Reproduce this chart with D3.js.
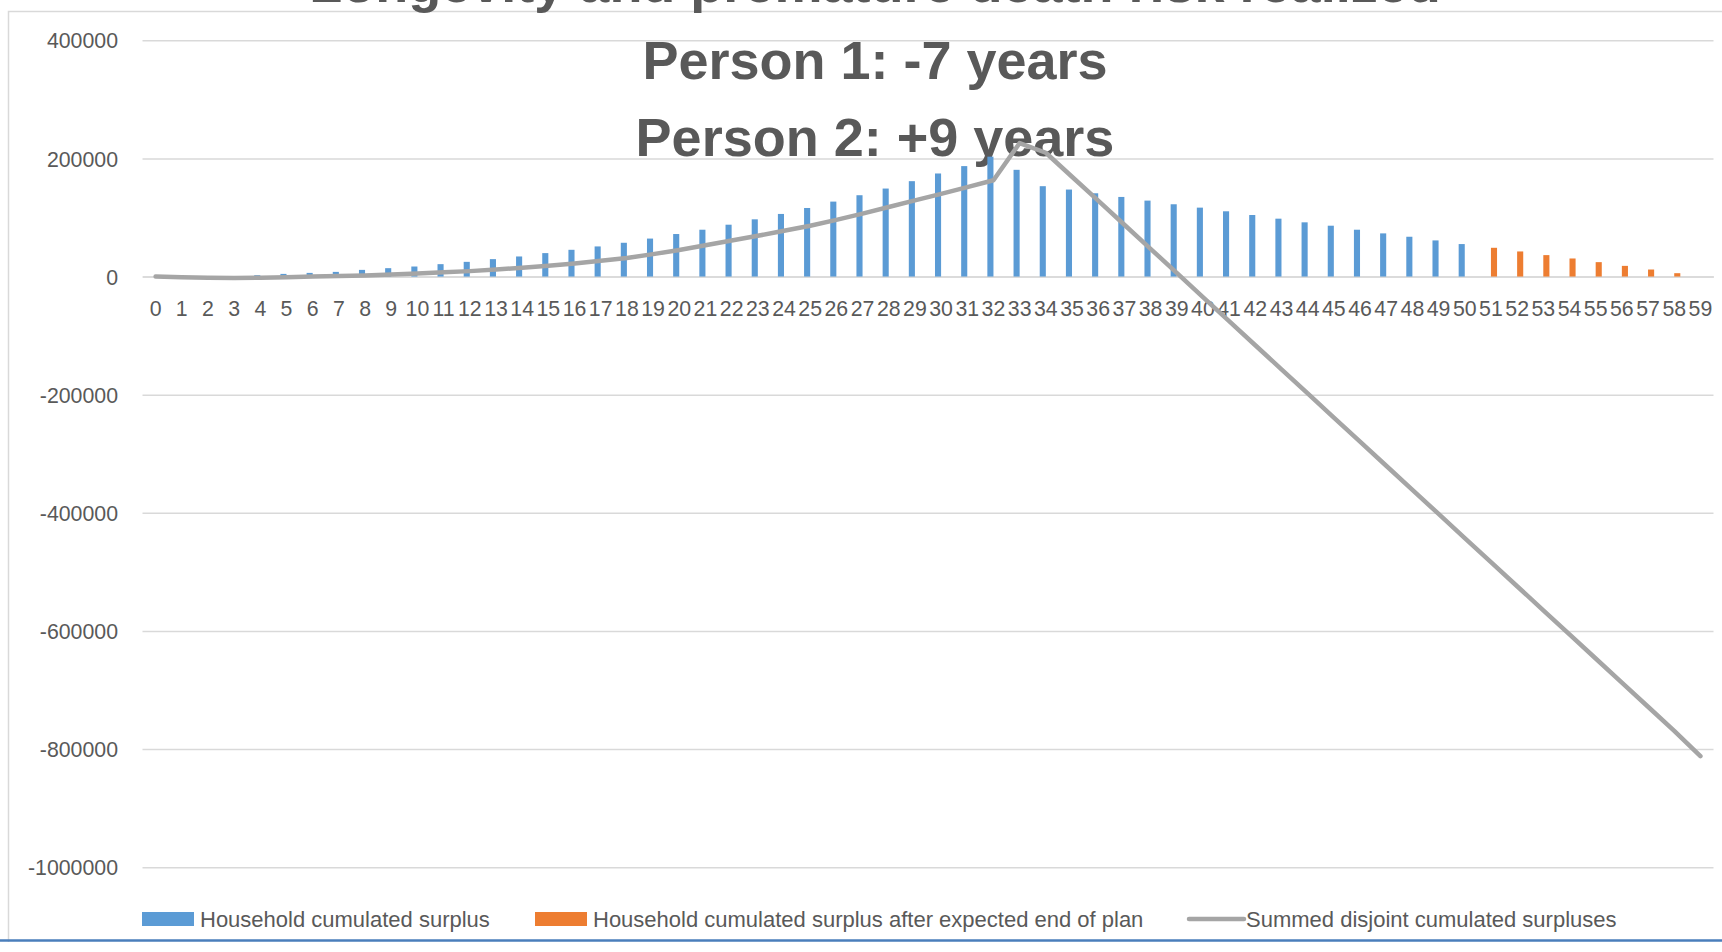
<!DOCTYPE html>
<html>
<head>
<meta charset="utf-8">
<script src="https://cdn.jsdelivr.net/npm/d3@7"></script>
<style>
  html, body { margin: 0; padding: 0; background: #fff; }
  svg { display: block; font-family: "Liberation Sans", Arial, sans-serif; }
</style>
</head>
<body>
<div id="chart"></div>
<script>
// categories (years into plan)
const years = [0,1,2,3,4,5,6,7,8,9,10,11,12,13,14,15,16,17,18,19,20,21,22,23,24,25,26,27,28,29,
               30,31,32,33,34,35,36,37,38,39,40,41,42,43,44,45,46,47,48,49,50,51,52,53,54,55,56,57,58,59];

// blue bars: household cumulated surplus (null after end of plan)
const householdSurplus = [0,0,0,0,2300,4500,6200,7900,11300,14200,
  17000,21000,24900,29500,34000,39700,45300,51000,57200,64300,
  72000,79300,87800,96900,106000,116100,126900,137700,149000,161500,
  174500,187000,203000,180700,153000,147300,141000,134800,128600,122400,
  116700,110500,104200,98000,91800,86100,79300,73100,67400,61200,
  55000,null,null,null,null,null,null,null,null,null];

// orange bars: surplus after expected end of plan
const afterPlanSurplus = [null,null,null,null,null,null,null,null,null,null,
  null,null,null,null,null,null,null,null,null,null,
  null,null,null,null,null,null,null,null,null,null,
  null,null,null,null,null,null,null,null,null,null,
  null,null,null,null,null,null,null,null,null,null,
  null,48700,42500,36300,30600,24400,18100,11900,5700,null];

// grey line: summed disjoint cumulated surpluses
const summedDisjoint = [0,-1000,-2000,-2500,-2000,-1000,0,1000,2000,3400,
  5100,7200,9200,11900,14800,18100,22300,26700,31500,38000,
  45000,53000,61000,69000,77600,86100,96000,106500,117800,129000,
  140000,151300,163000,226000,209600,169000,128500,87700,47000,6100,
  -34700,-75500,-116300,-157100,-197900,-238700,-279500,-320300,-361100,-401900,
  -442700,-483500,-524300,-565100,-605900,-646700,-687500,-728300,-769100,-812000];

const yTicks = [400000,200000,0,-200000,-400000,-600000,-800000,-1000000];

const titleLines = ["Longevity and premature death risk realized",
                    "Person 1: -7 years",
                    "Person 2: +9 years"];

const legendItems = [
  {label: "Household cumulated surplus", type: "rect", color: "#5b9bd5"},
  {label: "Household cumulated surplus after expected end of plan", type: "rect", color: "#ed7d31"},
  {label: "Summed disjoint cumulated surpluses", type: "line", color: "#a5a5a5"}
];

const W = 1722, H = 952;
const plot = {left: 142.5, right: 1713.5, top: 40.3, bottom: 867.2};
const textColor = "#595959";

const svg = d3.select("#chart").append("svg")
  .attr("width", W)
  .attr("height", H);

svg.append("rect").attr("width", W).attr("height", H).attr("fill", "#fff");

// chart area border (runs off the right edge)
svg.append("rect")
  .attr("x", 8.5).attr("y", 11.5)
  .attr("width", W).attr("height", 940)
  .attr("fill", "none")
  .attr("stroke", "#d9d9d9")
  .attr("stroke-width", 1.5);

const x = d3.scaleBand()
  .domain(years)
  .range([plot.left, plot.right])
  .padding(0);

const y = d3.scaleLinear()
  .domain([-1000000, 400000])
  .range([plot.bottom, plot.top]);

// y axis + gridlines (plain hyphen for negatives, like Excel)
const yAxis = svg.append("g")
  .attr("transform", `translate(${plot.left},0)`)
  .call(d3.axisLeft(y)
    .tickValues(yTicks)
    .tickSize(-(plot.right - plot.left))
    .tickPadding(24.5)
    .tickFormat(d => String(d)));
yAxis.select(".domain").remove();
yAxis.selectAll(".tick line").attr("stroke", "#d9d9d9").attr("stroke-width", 1.5);
yAxis.selectAll(".tick text")
  .attr("fill", textColor)
  .attr("font-size", "21.3px")
  .attr("font-family", "Liberation Sans, Arial, sans-serif")
  .attr("dy", "0.36em");

// category labels (axis crosses at 0)
const xAxis = svg.append("g")
  .attr("transform", `translate(0,${y(0)})`)
  .call(d3.axisBottom(x).tickSize(0).tickPadding(24));
xAxis.select(".domain").attr("stroke", "#d9d9d9").attr("stroke-width", 1.5);
xAxis.selectAll(".tick text")
  .attr("fill", textColor)
  .attr("font-size", "21.3px")
  .attr("font-family", "Liberation Sans, Arial, sans-serif");

// title, overlaid on the plot (first line runs off the top, as in the original)
const title = svg.append("g");
title.selectAll("text")
  .data(titleLines)
  .enter().append("text")
  .attr("x", 875)
  .attr("y", (d, i) => 2 + i * 77)
  .attr("text-anchor", "middle")
  .attr("fill", textColor)
  .attr("font-size", "54px")
  .attr("font-weight", "bold")
  .text(d => d);

// clustered bars: blue left half, orange right half of the cluster
const barW = 6.1;
const bars = svg.append("g");
bars.selectAll(".bar-blue")
  .data(years.filter((d, i) => householdSurplus[i] !== null))
  .enter().append("rect")
  .attr("class", "bar-blue")
  .attr("x", d => x(d) + x.bandwidth() / 2 - barW)
  .attr("width", barW)
  .attr("y", d => y(Math.max(0, householdSurplus[d])))
  .attr("height", d => Math.abs(y(householdSurplus[d]) - y(0)))
  .attr("fill", "#5b9bd5");

bars.selectAll(".bar-orange")
  .data(years.filter((d, i) => afterPlanSurplus[i] !== null))
  .enter().append("rect")
  .attr("class", "bar-orange")
  .attr("x", d => x(d) + x.bandwidth() / 2)
  .attr("width", barW)
  .attr("y", d => y(Math.max(0, afterPlanSurplus[d])))
  .attr("height", d => Math.abs(y(afterPlanSurplus[d]) - y(0)))
  .attr("fill", "#ed7d31");

// summed line
const line = d3.line()
  .x((d, i) => x(years[i]) + x.bandwidth() / 2)
  .y(d => y(d));

svg.append("path")
  .datum(summedDisjoint)
  .attr("d", line)
  .attr("fill", "none")
  .attr("stroke", "#a5a5a5")
  .attr("stroke-width", 4.5)
  .attr("stroke-linejoin", "round")
  .attr("stroke-linecap", "round");

// legend
const legendX = [142, 535, 1188];
const legend = svg.append("g");
legendItems.forEach((item, i) => {
  const g = legend.append("g").attr("transform", `translate(${legendX[i]},0)`);
  if (item.type === "rect") {
    g.append("rect")
      .attr("x", 0).attr("y", 912)
      .attr("width", 52).attr("height", 14)
      .attr("fill", item.color);
  } else {
    g.append("line")
      .attr("x1", 1).attr("x2", 56)
      .attr("y1", 919).attr("y2", 919)
      .attr("stroke", item.color)
      .attr("stroke-width", 4.5)
      .attr("stroke-linecap", "round");
  }
  g.append("text")
    .attr("x", 58)
    .attr("y", 927)
    .attr("fill", textColor)
    .attr("font-size", "22px")
    .text(item.label);
});

// blue frame line at the bottom of the picture
svg.append("line")
  .attr("x1", 0).attr("x2", W)
  .attr("y1", 940.5).attr("y2", 940.5)
  .attr("stroke", "#4a7ebb")
  .attr("stroke-width", 2.5);
svg.append("rect")
  .attr("x", 0).attr("y", 942)
  .attr("width", W).attr("height", H - 942)
  .attr("fill", "#fff");
</script>
</body>
</html>
